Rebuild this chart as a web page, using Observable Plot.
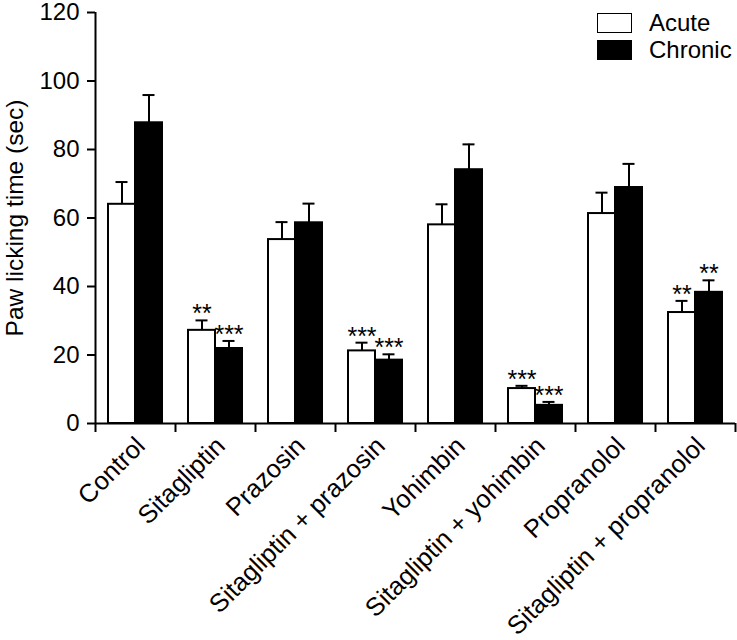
<!DOCTYPE html>
<html>
<head>
<meta charset="utf-8">
<script src="https://cdn.jsdelivr.net/npm/d3@7"></script>
<script src="https://cdn.jsdelivr.net/npm/@observablehq/plot@0.6"></script>
<style>
  body { margin: 0; background: #fff; }
  #wrap { position: relative; width: 737px; height: 640px; font-family: Arial, "Liberation Sans", sans-serif; }
  .legend { position: absolute; left: 597px; top: 9px; font-size: 24px; color: #000; }
  .legend .row { display: flex; align-items: center; height: 27px; }
  .legend .box { width: 33px; height: 18px; border: 1.5px solid #000; box-sizing: content-box; margin-right: 17px; }
</style>
</head>
<body>
<div id="wrap"></div>
<script>
const categories = ["Control", "Sitagliptin", "Prazosin", "Sitagliptin + prazosin", "Yohimbin", "Sitagliptin + yohimbin", "Propranolol", "Sitagliptin + propranolol"];
const acuteMean = [64.0, 27.2, 53.7, 21.2, 58.0, 10.2, 61.3, 32.4];
const acuteSEM = [6.5, 2.9, 5.1, 2.4, 6.0, 0.8, 6.1, 3.4];
const chronicMean = [87.8, 21.9, 58.6, 18.5, 74.1, 5.3, 68.9, 38.3];
const chronicSEM = [8.1, 2.2, 5.6, 1.7, 7.4, 1.0, 6.9, 3.5];
const acuteStars = ["", "**", "", "***", "", "***", "", "**"];
const chronicStars = ["", "***", "", "***", "", "***", "", "**"];
const yTicks = [0, 20, 40, 60, 80, 100, 120];
const seriesNames = ["Acute", "Chronic"];

const acute = categories.map((c, i) => ({cat: c, mean: acuteMean[i], top: acuteMean[i] + acuteSEM[i], stars: acuteStars[i]}));
const chronic = categories.map((c, i) => ({cat: c, mean: chronicMean[i], top: chronicMean[i] + chronicSEM[i], stars: chronicStars[i]}));

const FS = 24;
const chart = Plot.plot({
  width: 737,
  height: 640,
  marginLeft: 95,
  marginRight: 2,
  marginTop: 12,
  marginBottom: 217,
  style: {fontFamily: 'Arial, "Liberation Sans", sans-serif', fontSize: FS + "px", color: "#000", background: "#fff"},
  x: {domain: categories, padding: 0, axis: null},
  y: {domain: [0, 120], ticks: yTicks, label: null},
  marks: [
    Plot.axisY({ticks: yTicks, tickSize: 8, tickPadding: 8, strokeWidth: 2, fontSize: FS, label: null}),
    Plot.text(["Paw licking time (sec)"], {frameAnchor: "left", textAnchor: "middle", rotate: -90, dx: -80, fontSize: 24.5, text: d => d}),
    Plot.barY(acute, {x: "cat", y: "mean", fill: "white", stroke: "black", strokeWidth: 2, insetLeft: 13, insetRight: 40}),
    Plot.barY(chronic, {x: "cat", y: "mean", fill: "black", stroke: "black", strokeWidth: 2, insetLeft: 40, insetRight: 13}),
    Plot.ruleX(acute, {x: "cat", y1: "mean", y2: "top", dx: -13.5, strokeWidth: 2}),
    Plot.ruleX(chronic, {x: "cat", y1: "mean", y2: "top", dx: 13.5, strokeWidth: 2}),
    Plot.tickY(acute, {x: "cat", y: "top", insetLeft: 20.5, insetRight: 47.5, strokeWidth: 2}),
    Plot.tickY(chronic, {x: "cat", y: "top", insetLeft: 47.5, insetRight: 20.5, strokeWidth: 2}),
    Plot.text(acute, {x: "cat", y: "top", text: "stars", dx: -13.5, dy: -6, fontSize: 25}),
    Plot.text(chronic, {x: "cat", y: "top", text: "stars", dx: 13.5, dy: -6, fontSize: 25}),
    Plot.ruleY([0], {strokeWidth: 2}),
    Plot.ruleX([categories[0]], {dx: -40, strokeWidth: 2}),
    Plot.ruleX(categories, {x: d => d, dx: -40, y1: 0, y2: 0, insetBottom: -9, strokeWidth: 2}),
    Plot.ruleX([categories[categories.length - 1]], {x: d => d, dx: 40, y1: 0, y2: 0, insetBottom: -9, strokeWidth: 2}),
    Plot.text(categories, {x: d => d, y: 0, text: d => d, rotate: -45, textAnchor: "end", lineAnchor: "bottom", dy: 24, dx: 11, fontSize: 25.5})
  ]
});
const wrap = document.getElementById("wrap");
wrap.appendChild(chart);
const legend = document.createElement("div");
legend.className = "legend";
legend.innerHTML = seriesNames.map((s, i) =>
  `<div class="row"><span class="box" style="background:${i ? "#000" : "#fff"}"></span><span>${s}</span></div>`).join("");
wrap.appendChild(legend);
</script>
</body>
</html>
